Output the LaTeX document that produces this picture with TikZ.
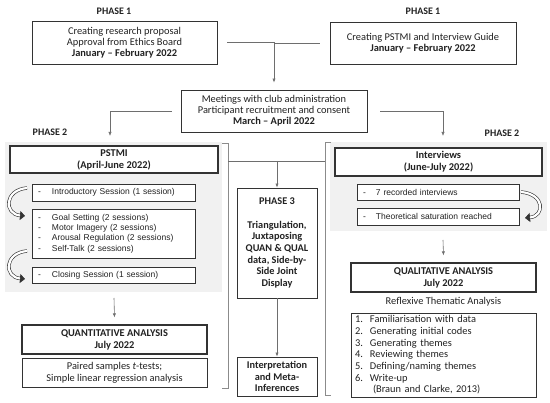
\documentclass[tikz,border=0pt]{standalone}
\usepackage{fontspec}
\setmainfont{Carlito}
\newfontfamily\arialf{Liberation Sans}
\usetikzlibrary{arrows.meta}
\definecolor{ink}{HTML}{222222}
\definecolor{edge}{HTML}{333333}
\definecolor{conn}{HTML}{6E6E6E}
\definecolor{panel}{HTML}{F1F1F1}
\tikzset{
  box/.style={draw=edge, line width=0.8pt, fill=white, text=ink, inner sep=0pt, align=center,
    font=\fontsize{10.4}{11}\selectfont},
  hdr/.style={box, line width=1.1pt, font=\bfseries\fontsize{10.4}{12}\selectfont},
  itembox/.style={box, line width=0.7pt, align=left, inner xsep=6pt, font=\arialf\fontsize{8.5}{10.4}\selectfont},
  lbl/.style={text=ink, font=\bfseries\fontsize{10}{12}\selectfont, inner sep=0pt},
  conn/.style={draw=conn, line width=0.6pt},
  arr/.style={-{Latex[length=4pt,width=3.2pt]}},
  bracket/.style={draw=conn!80, line width=0.6pt},
  curv/.style={draw=edge, line width=0.6pt, double=white, double distance=2.2pt, -{Triangle[length=5pt,width=9pt]}},
}
\begin{document}
\begin{tikzpicture}[x=1pt,y=-1pt]
\useasboundingbox (0,0) rectangle (550,403);
% panels
\fill[panel] (5,142) rectangle (222,292);
\fill[panel] (330,142) rectangle (547,231);
% phase labels
\node[lbl] (ph1a) at (114,11) {PHASE 1};
\node[lbl] (ph1b) at (423,11) {PHASE 1};
\node[lbl] (ph2a) at (50,132) {PHASE 2};
\node[lbl] (ph2b) at (502,133) {PHASE 2};
% top boxes
\node[box, minimum width=185pt, minimum height=43pt] (p1a) at (124.5,42.5)
  {Creating research proposal\\Approval from Ethics Board\\\textbf{January -- February 2022}};
\node[box, minimum width=186pt, minimum height=42pt] (p1b) at (423,43)
  {Creating PSTMI and Interview Guide\\\textbf{January -- February 2022}};
\node[box, minimum width=186pt, minimum height=42pt] (meet) at (274,111)
  {Meetings with club administration\\Participant recruitment and consent\\\textbf{March -- April 2022}};
% left panel
\node[hdr, minimum width=208pt, minimum height=27pt] (pstmi) at (114,159.5) {PSTMI\\(April-June 2022)};
\node[itembox, text width=151pt, minimum height=17pt] (intro) at (113.5,192.5)
  {\makebox[14pt][l]{-}Introductory Session (1 session)};
\node[itembox, text width=151pt, minimum height=49pt] (goal) at (113.5,233.5)
  {\makebox[14pt][l]{-}Goal Setting (2 sessions)\\\makebox[14pt][l]{-}Motor Imagery (2 sessions)\\\makebox[14pt][l]{-}Arousal Regulation (2 sessions)\\\makebox[14pt][l]{-}Self-Talk (2 sessions)};
\node[itembox, text width=151pt, minimum height=16pt] (close) at (113.5,275)
  {\makebox[14pt][l]{-}Closing Session (1 session)};
\draw[curv] (27,188) .. controls (4,190) and (4,214) .. (25,216);
\draw[curv] (27,251) .. controls (4,253) and (4,277) .. (25,279);
% quant
\node[hdr, minimum width=185pt, minimum height=29pt] (quant) at (114.5,339.5) {QUANTITATIVE ANALYSIS\\July 2022};
\node[box, minimum width=185pt, minimum height=29pt, font=\fontsize{10.4}{11.7}\selectfont] (tests) at (114.5,372.5)
  {Paired samples \textit{t}-tests;\\Simple linear regression analysis};
% right panel
\node[hdr, minimum width=207pt, minimum height=28pt] (intv) at (438.5,162) {Interviews\\(June-July 2022)};
\node[itembox, text width=150pt, minimum height=16pt] (rec) at (438,192)
  {\makebox[13pt][l]{-}7 recorded interviews};
\node[itembox, text width=150pt, minimum height=17pt] (sat) at (438,216.5)
  {\makebox[13pt][l]{-}Theoretical saturation reached};
\draw[curv] (521,192) .. controls (545,194) and (545,216) .. (525,218);
% qual
\node[hdr, minimum width=185pt, minimum height=29pt] (qual) at (443.5,277.5) {QUALITATIVE ANALYSIS\\July 2022};
\node[text=ink, inner sep=0pt, font=\fontsize{10.4}{12}\selectfont] (rta) at (443.5,302) {Reflexive Thematic Analysis};
\node[box, minimum width=185pt, minimum height=84pt, text width=177pt, inner xsep=4pt, align=left,
  font=\fontsize{10.4}{11.7}\selectfont] (list) at (443.5,355)
  {\makebox[15pt][l]{1.}Familiarisation with data\\
   \makebox[15pt][l]{2.}Generating initial codes\\
   \makebox[15pt][l]{3.}Generating themes\\
   \makebox[15pt][l]{4.}Reviewing themes\\
   \makebox[15pt][l]{5.}Defining/naming themes\\
   \makebox[15pt][l]{6.}Write-up\\
   \hspace{18pt}(Braun and Clarke, 2013)};
% phase 3
\node[box, minimum width=80pt, minimum height=110pt, font=\bfseries\fontsize{10.3}{11.7}\selectfont] (ph3) at (277,243)
  {PHASE 3\\[12pt]Triangulation,\\Juxtaposing\\QUAN \& QUAL\\data, Side-by-\\Side Joint\\Display};
\node[box, minimum width=80pt, minimum height=39pt, font=\bfseries\fontsize{10.3}{11.7}\selectfont] (interp) at (277,376.5)
  {Interpretation\\and Meta-\\Inferences};
% connectors
\coordinate (pl) at (110,136);
\coordinate (pr) at (443,136);
\coordinate (gl) at (114,298);
\coordinate (gr) at (443,240);
\coordinate (bl) at (228,161);
\coordinate (br) at (325,161);
\coordinate (bm) at (277,161);
\draw[conn,arr] ([xshift=10pt]p1a.east) -| ([yshift=7pt]meet.north);
\draw[conn] ([xshift=-10pt]p1b.west) -- (meet.north |- p1b.west);
\draw[conn,arr] ([xshift=-9pt]meet.west) -| (pl);
\draw[conn,arr] ([xshift=13pt]meet.east) -| (pr);
\draw[conn,arr] (gl) -- ([yshift=7pt]quant.north);
\draw[conn,arr] (gr) -- ([yshift=7pt]qual.north);
\draw[bracket] (222,143) -- (228,143) -- (228,388) -- (222,388);
\draw[bracket] (331,142) -- (325,142) -- (325,395) -- (331,395);
\draw[conn] (bl) -- (br);
\draw[conn,arr] (bm) -- (ph3.north);
\draw[conn,arr] (ph3.south) -- (interp.north);
\end{tikzpicture}
\end{document}
